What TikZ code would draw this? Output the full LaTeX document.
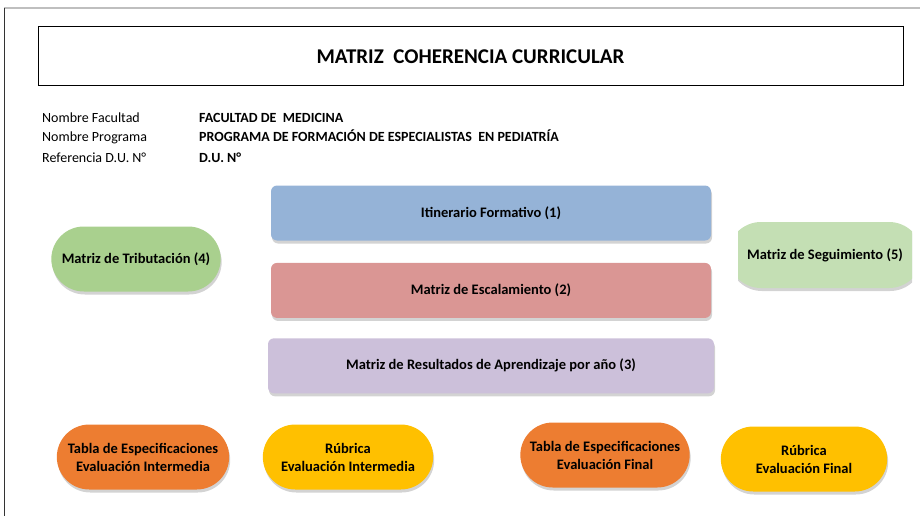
\documentclass[tikz,border=0pt]{standalone}
\usepackage{fontspec}
\setmainfont{Carlito}
\usetikzlibrary{positioning, shapes.misc, shadows}

\definecolor{itinblue}{HTML}{95B3D7}
\definecolor{escrose}{HTML}{DA9694}
\definecolor{reslilac}{HTML}{CCC0DA}
\definecolor{tribgreen}{HTML}{A9D08E}
\definecolor{seggreen}{HTML}{C4DFB4}
\definecolor{taborange}{HTML}{ED7D31}
\definecolor{rubyellow}{HTML}{FFC000}

\begin{document}
\begin{tikzpicture}[
            x = 1pt, y = -1pt, % pixel like grid
            node distance = 20pt, % distance between bars
            softshadow/.style = {drop shadow = {opacity = 0.35, shadow xshift = 1pt, shadow yshift = -3pt}},
            bar/.style = {
                rectangle,
                rounded corners = 6pt,
                minimum width = 440pt,
                minimum height = 55pt,
                font = \bfseries\fontsize{14.5}{17}\selectfont,
                softshadow
            },
            pill/.style = {
                rounded rectangle,
                minimum width = 176pt,
                minimum height = 65pt,
                align = center,
                font = \bfseries\fontsize{14.5}{18}\selectfont,
                softshadow
            },
            info/.style = {anchor = base west, font = \fontsize{14}{16}\selectfont, inner sep = 0pt},
            infoval/.style = {info, font = \bfseries\fontsize{14}{16}\selectfont}
        ]

        \useasboundingbox (0,0) rectangle (920,516);

        % page edges
        \draw[black!25, line width = 1.5pt] (4,8) -- (920,8);
        \draw[black!80, line width = 1pt] (4,8) -- (4,516);

        % heading
        \node[draw, line width = 1pt, minimum width = 865pt, minimum height = 59pt,
              font = \bfseries\fontsize{21}{24}\selectfont] (title) at (470.5,56.5)
              {MATRIZ\ \ COHERENCIA CURRICULAR};

        \node[info] (facl) at (42,123) {Nombre Facultad};
        \node[info] (progl) at (42,142) {Nombre Programa};
        \node[info] (refl) at (42,162) {Referencia D.U. N°};
        \node[infoval] (facv) at (199,123) {FACULTAD DE\ \ MEDICINA};
        \node[infoval] (progv) at (199,142) {PROGRAMA DE FORMACIÓN DE ESPECIALISTAS\ \ EN PEDIATRÍA};
        \node[infoval] (refv) at (199,162) {D.U. N°};

        % central column
        \node[bar, fill = itinblue] (itin) at (491,213) {Itinerario Formativo (1)};
        \node[bar, fill = escrose, below = 22pt of itin] (esc) {Matriz de Escalamiento (2)};
        \node[bar, fill = reslilac, minimum width = 446pt, below = 20pt of esc] (res)
              {Matriz de Resultados de Aprendizaje por año (3)};

        % side matrices
        \node[pill, fill = tribgreen] (trib) at (136,259) {Matriz de Tributación (4)};
        \begin{scope}
            \clip (738,210) rectangle (912,300);
            \fill[seggreen, rounded corners = 33pt, softshadow] (728,222) rectangle (922,288);
        \end{scope}
        \node[font = \bfseries\fontsize{14.5}{17}\selectfont] (seg) at (825,255)
              {Matriz de Seguimiento (5)};

        % evaluations
        \node[pill, fill = taborange, minimum width = 179pt] (tabint) at (143,457)
              {Tabla de Especificaciones\\Evaluación Intermedia};
        \node[pill, fill = rubyellow, minimum width = 177pt] (rubint) at (348,457)
              {Rúbrica\\Evaluación Intermedia};
        \node[pill, fill = taborange] (tabfin) at (605,455)
              {Tabla de Especificaciones\\Evaluación Final};
        \node[pill, fill = rubyellow, minimum width = 173pt] (rubfin) at (804,459)
              {Rúbrica\\Evaluación Final};

  \end{tikzpicture}
\end{document}
